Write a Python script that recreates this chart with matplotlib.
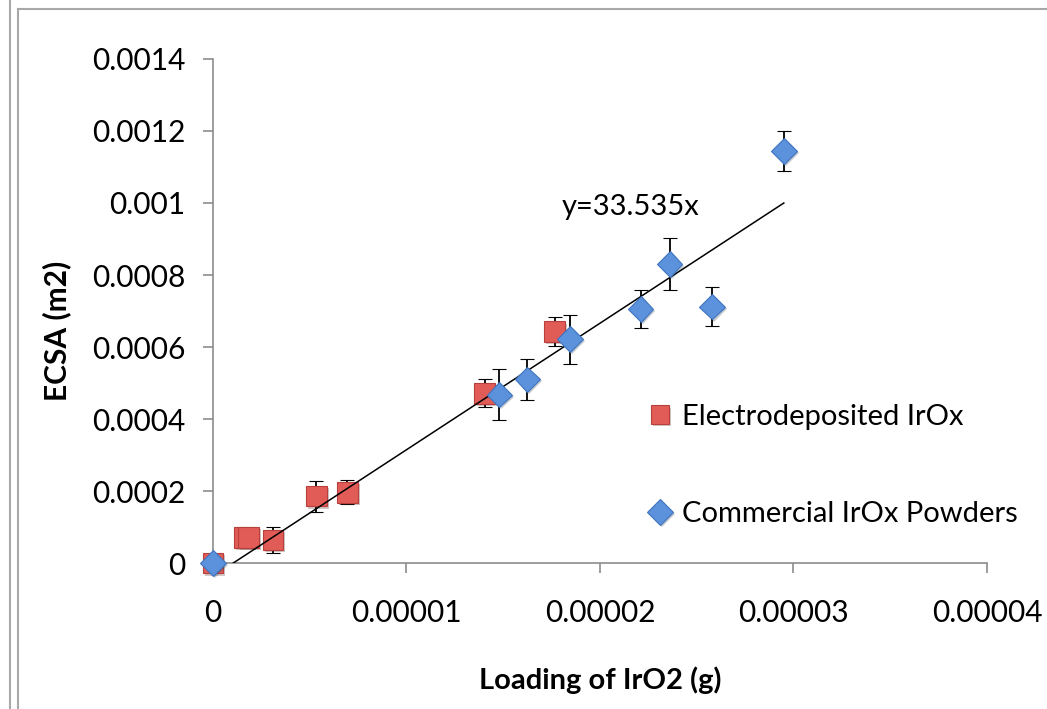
import matplotlib
matplotlib.use("Agg")
import matplotlib.pyplot as plt
from matplotlib.lines import Line2D
import matplotlib.patheffects as pe

plt.rcParams['font.family'] = ['Lato', 'DejaVu Sans']

# Electrodeposited IrOx (squares)
elec_x = [0, 1.6e-6, 1.85e-6, 3.1e-6, 5.35e-6, 6.95e-6, 1.405e-5, 1.765e-5]
elec_y = [0, 7.0e-5, 7.1e-5, 6.4e-5, 1.86e-4, 1.97e-4, 4.72e-4, 6.42e-4]
elec_err = [0, 0, 0, 3.7e-5, 4.3e-5, 3.4e-5, 4.0e-5, 4.0e-5]

# Commercial IrOx powders (diamonds)
comm_x = [0, 1.48e-5, 1.625e-5, 1.845e-5, 2.21e-5, 2.36e-5, 2.58e-5, 2.95e-5]
comm_y = [0, 4.68e-4, 5.1e-4, 6.22e-4, 7.06e-4, 8.3e-4, 7.12e-4, 1.145e-3]
comm_err = [0, 7.1e-5, 5.7e-5, 6.8e-5, 5.3e-5, 7.3e-5, 5.5e-5, 5.5e-5]

# trend line end points
fit_x = [1.05e-6, 2.95e-5]
fit_y = [0, 1.0e-3]

xticks = [0, 0.00001, 0.00002, 0.00003, 0.00004]
xlabels = ['0', '0.00001', '0.00002', '0.00003', '0.00004']
yticks = [0, 0.0002, 0.0004, 0.0006, 0.0008, 0.001, 0.0012, 0.0014]
ylabels = ['0', '0.0002', '0.0004', '0.0006', '0.0008', '0.001', '0.0012', '0.0014']

fig = plt.figure(figsize=(10.47, 7.09), dpi=100)
ax = fig.add_axes([0.2034, 0.2059, 0.9427 - 0.2034, 0.9168 - 0.2059])

shadow = [pe.SimplePatchShadow(offset=(1.5, -1.5), alpha=0.25), pe.Normal()]

eb1 = ax.errorbar(elec_x, elec_y, yerr=elec_err, fmt='s', ms=15,
                  mfc='#e25c57', mec='#b8403c', mew=0.8, ecolor='black',
                  elinewidth=1.3, capsize=5, capthick=1.3, zorder=3)
eb1[0].set_path_effects(shadow)

ax.plot(fit_x, fit_y, color='black', lw=1.1, zorder=4)

eb2 = ax.errorbar(comm_x, comm_y, yerr=comm_err, fmt='D', ms=13,
                  mfc='#5b92db', mec='#3f74bf', mew=0.8, ecolor='black',
                  elinewidth=1.3, capsize=5, capthick=1.3, zorder=5)
eb2[0].set_path_effects(shadow)
for a in list(eb1.lines[0:1]) + list(eb2.lines[0:1]):
    a.set_clip_on(False)

ax.text(2.16e-5, 0.00099, 'y=33.535x', fontsize=21, ha='center', va='center')

ax.set_xlim(0, 0.00004)
ax.set_ylim(0, 0.0014)
ax.set_xticks(xticks)
ax.set_xticklabels(xlabels)
ax.set_yticks(yticks)
ax.set_yticklabels(ylabels)
ax.tick_params(axis='both', labelsize=21.5, length=7, width=1.2, color='#8c8c8c',
               direction='out')
ax.tick_params(axis='x', pad=19)
ax.tick_params(axis='y', pad=13)
for s in ['top', 'right']:
    ax.spines[s].set_visible(False)
for s in ['left', 'bottom']:
    ax.spines[s].set_color('#8c8c8c')
    ax.spines[s].set_linewidth(1.2)

ax.set_xlabel('Loading of IrO2 (g)', fontsize=21, fontweight='bold', labelpad=28)
ax.set_ylabel('ECSA (m2)', fontsize=21.5, fontweight='bold')
ax.yaxis.set_label_coords(-0.183, 0.46)

leg = ax.legend([eb1[0], eb2[0]], ['Electrodeposited IrOx', 'Commercial IrOx Powders'],
                loc='upper left', bbox_to_anchor=(0.54, 0.345), frameon=False,
                fontsize=21, labelspacing=2.45, handletextpad=0.25,
                handlelength=1.0, numpoints=1, borderpad=0)
for h in leg.legend_handles:
    h.set_markersize(13)

# chart frame
frame_color = '#a8a8a8'
fig.add_artist(Line2D([18 / 1047, 1], [1 - 9 / 709, 1 - 9 / 709], color=frame_color, lw=1.5))
fig.add_artist(Line2D([18 / 1047, 18 / 1047], [0, 1 - 9 / 709], color=frame_color, lw=1.5))
fig.add_artist(Line2D([10 / 1047, 10 / 1047], [0, 1], color=frame_color, lw=1.5))

fig.savefig('out.png', dpi=100)
